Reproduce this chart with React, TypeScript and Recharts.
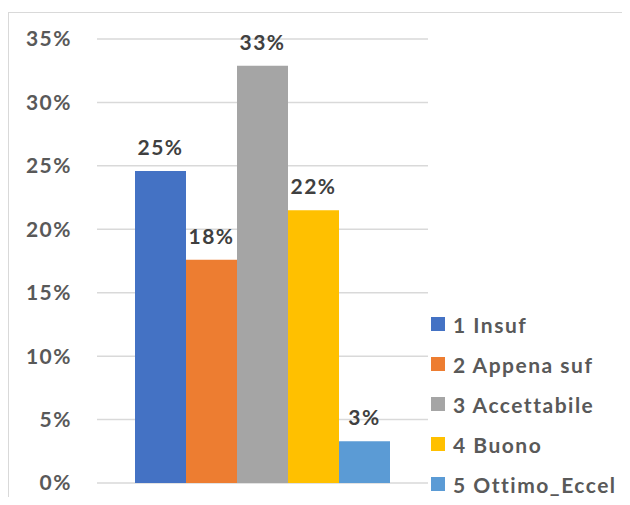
import { Bar, BarChart, CartesianGrid, LabelList, Legend, XAxis, YAxis } from "recharts"

const seriesNames = ["1 Insuf", "2 Appena suf", "3 Accettabile", "4 Buono", "5 Ottimo_Eccel"]
const seriesKeys = ["s1", "s2", "s3", "s4", "s5"]
const values = [24.6, 17.6, 32.9, 21.5, 3.3]
const colors = ["#4472C4", "#ED7D31", "#A5A5A5", "#FFC000", "#5B9BD5"]
const yTicks = [0, 5, 10, 15, 20, 25, 30, 35]

const row: Record<string, string | number> = { name: "" }
seriesKeys.forEach((k, i) => {
    row[k] = values[i]
})
const data = [row]

const font = "Lato, 'Open Sans', sans-serif"

function LegendBox() {
    return (
        <div style={{ fontFamily: font, fontWeight: 700, fontSize: 21, letterSpacing: 1.5, color: "#595959" }}>
            {seriesNames.map((n, i) => (
                <div
                    key={n}
                    style={{ display: "flex", alignItems: "center", height: 30, marginBottom: i < 4 ? 10 : 0, whiteSpace: "nowrap" }}
                >
                    <span style={{ display: "inline-block", width: 14, height: 14, background: colors[i], marginRight: 8 }} />
                    {n}
                </div>
            ))}
        </div>
    )
}

export default function App() {
    // page is exactly 505 tall: negative margins cancel the body margin top and bottom
    return (
        <div style={{ position: "relative", width: 614, height: 505, marginTop: -8, marginBottom: -8 }}>
            <div
                style={{
                    position: "absolute",
                    left: 0,
                    top: 12,
                    width: 614,
                    height: 493,
                    borderLeft: "1.5px solid #d9d9d9",
                    borderTop: "1.5px solid #d9d9d9",
                    boxSizing: "border-box",
                }}
            />
            <div style={{ position: "absolute", left: 0, top: 8 }}>
                <BarChart
                    width={614}
                    height={497}
                    data={data}
                    margin={{ top: 31, right: 194, left: 0, bottom: 22 }}
                    barGap={0}
                    barCategoryGap={38}
                >
                    <CartesianGrid vertical={false} stroke="#d9d9d9" strokeWidth={1.5} />
                    <XAxis dataKey="name" hide />
                    <YAxis
                        width={89}
                        domain={[0, 35]}
                        ticks={yTicks}
                        interval={0}
                        tickFormatter={(v) => `${v}%`}
                        axisLine={false}
                        tickLine={false}
                        tickSize={0}
                        tickMargin={25}
                        tick={{ fill: "#595959", fontSize: 21, fontWeight: 700, fontFamily: font, letterSpacing: 1.5 }}
                    />
                    <Legend
                        layout="vertical"
                        align="center"
                        verticalAlign="middle"
                        wrapperStyle={{ left: 423, top: 301, width: 190 }}
                        content={() => <LegendBox />}
                    />
                    {seriesKeys.map((k, i) => (
                        <Bar key={k} dataKey={k} name={seriesNames[i]} fill={colors[i]} isAnimationActive={false}>
                            <LabelList
                                dataKey={k}
                                position="top"
                                offset={16}
                                formatter={(v: number) => `${Math.round(v)}%`}
                                style={{ fill: "#404040", fontSize: 21, fontWeight: 700, fontFamily: font, letterSpacing: 1.5 }}
                            />
                        </Bar>
                    ))}
                </BarChart>
            </div>
        </div>
    )
}
